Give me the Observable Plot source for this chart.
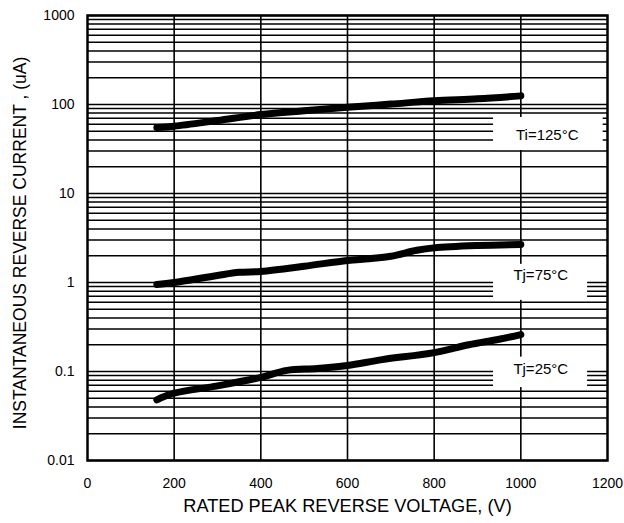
<!DOCTYPE html>
<html>
<head>
<meta charset="utf-8">
<script src="https://cdn.jsdelivr.net/npm/d3@7"></script>
<script src="https://cdn.jsdelivr.net/npm/@observablehq/plot@0.6"></script>
<style>
  html, body { margin: 0; padding: 0; background: white; }
  #chart { width: 624px; height: 523px; }
</style>
</head>
<body>
<div id="chart"></div>
<script>
// Series: rated peak reverse voltage (V) vs instantaneous reverse current (uA)
const v125 = [160, 200, 300, 400, 500, 600, 700, 800, 900, 1000];
const i125 = [55, 57, 66, 77, 85, 93, 101, 110, 116, 125];

const v75 = [160, 200, 300, 350, 400, 500, 600, 650, 700, 760, 800, 900, 1000];
const i75 = [0.95, 1.0, 1.2, 1.3, 1.33, 1.52, 1.77, 1.85, 1.97, 2.3, 2.45, 2.6, 2.67];

const v25 = [160, 200, 300, 400, 460, 530, 600, 680, 800, 880, 950, 1000];
const i25 = [0.048, 0.057, 0.069, 0.086, 0.103, 0.108, 0.117, 0.136, 0.163, 0.2, 0.23, 0.26];

const xTicks = [0, 200, 400, 600, 800, 1000, 1200];
const yTicks = [0.01, 0.1, 1, 10, 100, 1000];
const yTickLabels = ["0.01", "0.1", "1", "10", "100", "1000"];

const labelText = ["Ti=125°C", "Tj=75°C", "Tj=25°C"];
const labelX = [1061, 1046, 1046];
const labelY = [44.9, 1.2, 0.105];
const boxX1 = [937, 937, 937];
const boxX2 = [1190, 1154, 1154];
const boxY1 = [71.5, 1.6, 0.145];
const boxY2 = [30.4, 0.63, 0.066];

const xTitle = "RATED PEAK REVERSE VOLTAGE, (V)";
const yTitle = "INSTANTANEOUS REVERSE CURRENT , (uA)";

const series = [
  ...v125.map((v, k) => ({v, i: i125[k], s: "125"})),
  ...v75.map((v, k) => ({v, i: i75[k], s: "75"})),
  ...v25.map((v, k) => ({v, i: i25[k], s: "25"}))
];
const labels = labelText.map((t, k) => ({
  t, x: labelX[k], y: labelY[k], x1: boxX1[k], x2: boxX2[k], y1: boxY1[k], y2: boxY2[k]
}));
const yGrid = d3.scaleLog().domain([0.01, 1000]).ticks();
const xGrid = xTicks.slice(1, -1);

const chart = Plot.plot({
  width: 624,
  height: 523,
  marginLeft: 87,
  marginRight: 17,
  marginTop: 15,
  marginBottom: 63,
  style: { fontFamily: "'Liberation Sans', Arial, sans-serif", background: "white", color: "black" },
  x: { domain: [0, 1200] },
  y: { type: "log", domain: [0.01, 1000] },
  marks: [
    Plot.ruleY(yGrid, { stroke: "black", strokeWidth: 1.5 }),
    Plot.ruleX(xGrid, { stroke: "black", strokeWidth: 1.6 }),
    Plot.rect(labels, { x1: "x1", x2: "x2", y1: "y1", y2: "y2", fill: "white" }),
    Plot.line(series, { x: "v", y: "i", z: "s", stroke: "black", strokeWidth: 7,
      strokeLinecap: "round", strokeLinejoin: "round", curve: "catmull-rom" }),
    Plot.frame({ stroke: "black", strokeWidth: 2.5 }),
    Plot.text(labels, { x: "x", y: "y", text: "t", fontSize: 15, fill: "black" }),
    Plot.axisX({ ticks: xTicks, tickSize: 0, tickPadding: 18, fontSize: 14, label: null, tickFormat: d => String(d) }),
    Plot.axisY({ ticks: yTicks, tickSize: 0, tickPadding: 13, fontSize: 14, label: null,
      tickFormat: d => yTickLabels[yTicks.indexOf(d)] }),
    Plot.text([xTitle], { frameAnchor: "bottom", dy: 46, fontSize: 18.2, fill: "black", lineAnchor: "middle" }),
    Plot.text([yTitle], { frameAnchor: "left", dx: -67, dy: 5, rotate: -90, fontSize: 17.5, fill: "black",
      textAnchor: "middle", lineAnchor: "middle" })
  ]
});
document.getElementById("chart").appendChild(chart);
</script>
</body>
</html>
